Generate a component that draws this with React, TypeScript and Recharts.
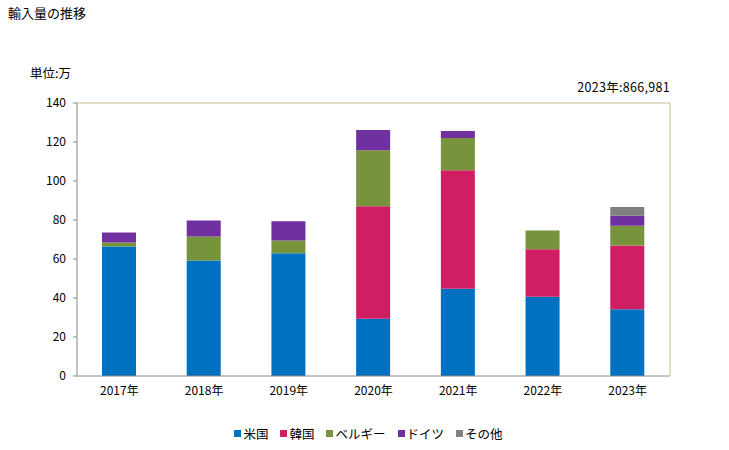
import React from "react";
import { BarChart, Bar, XAxis, YAxis, ReferenceLine } from "recharts";

const categories = ["2017年", "2018年", "2019年", "2020年", "2021年", "2022年", "2023年"];
const usa = [66.4, 59.2, 62.9, 29.3, 44.8, 40.6, 34.2];
const korea = [0, 0, 0, 57.7, 60.7, 24.4, 32.7];
const belgium = [2.1, 12.3, 6.6, 28.8, 16.5, 9.6, 10.2];
const germany = [5.1, 8.3, 9.8, 10.3, 3.6, 0, 5.1];
const others = [0, 0, 0, 0, 0, 0, 4.5];
const yTicks = [0, 20, 40, 60, 80, 100, 120, 140];

const seriesNames = ["米国", "韓国", "ベルギー", "ドイツ", "その他"];
const seriesKeys = ["usa", "korea", "belgium", "germany", "others"];
const seriesColors = ["#0070C0", "#D01E62", "#77933C", "#7030A0", "#808080"];

const data = categories.map((c, i) => ({
  name: c,
  usa: usa[i],
  korea: korea[i],
  belgium: belgium[i],
  germany: germany[i],
  others: others[i],
}));

const FONT = "'Noto Sans CJK JP', 'Noto Sans', sans-serif";

export default function App() {
  return (
    <div style={{ position: "absolute", left: 0, top: 0, width: 729, height: 450, background: "#fff", fontFamily: FONT }}>
      <div style={{ position: "absolute", left: 8, top: 3, fontSize: 13, color: "#000" }}>輸入量の推移</div>
      <div style={{ position: "absolute", left: 30, top: 63, fontSize: 12.5, color: "#000" }}>単位:万</div>
      <div style={{ position: "absolute", right: 59, top: 77, fontSize: 12.5, color: "#000", letterSpacing: 0.3 }}>2023年:866,981</div>
      <BarChart
        width={729}
        height={450}
        data={data}
        margin={{ top: 103, right: 0, bottom: 44, left: 0 }}
        barSize={34}
      >
        <XAxis
          dataKey="name"
          height={30}
          tickLine={false}
          tickSize={0}
          tickMargin={10}
          axisLine={{ stroke: "#888888" }}
          tick={{ fill: "#000", fontSize: 12, fontFamily: FONT }}
        />
        <YAxis
          yAxisId="left"
          width={77}
          domain={[0, 140]}
          ticks={yTicks}
          interval={0}
          tickSize={4}
          tickMargin={7}
          axisLine={{ stroke: "#888888" }}
          tickLine={{ stroke: "#888888" }}
          tick={{ fill: "#000", fontSize: 12, fontFamily: FONT }}
        />
        <YAxis
          yAxisId="right"
          orientation="right"
          width={59}
          domain={[0, 140]}
          tick={false}
          tickLine={false}
          axisLine={{ stroke: "#C8BD8F" }}
        />
        <ReferenceLine yAxisId="left" y={140} stroke="#C8BD8F" ifOverflow="extendDomain" />
        {seriesKeys.map((k, i) => (
          <Bar
            key={k}
            yAxisId="left"
            dataKey={k}
            name={seriesNames[i]}
            stackId="a"
            fill={seriesColors[i]}
            isAnimationActive={false}
          />
        ))}
      </BarChart>
      <div
        style={{
          position: "absolute",
          left: 4,
          width: 729,
          top: 424,
          display: "flex",
          justifyContent: "center",
          fontSize: 12.5,
          color: "#000",
        }}
      >
        {seriesNames.map((n, i) => (
          <div key={n} style={{ display: "flex", alignItems: "center", marginLeft: i === 0 ? 0 : 12 }}>
            <span style={{ display: "inline-block", width: 7, height: 7, background: seriesColors[i], marginRight: 2 }} />
            <span>{n}</span>
          </div>
        ))}
      </div>
    </div>
  );
}
